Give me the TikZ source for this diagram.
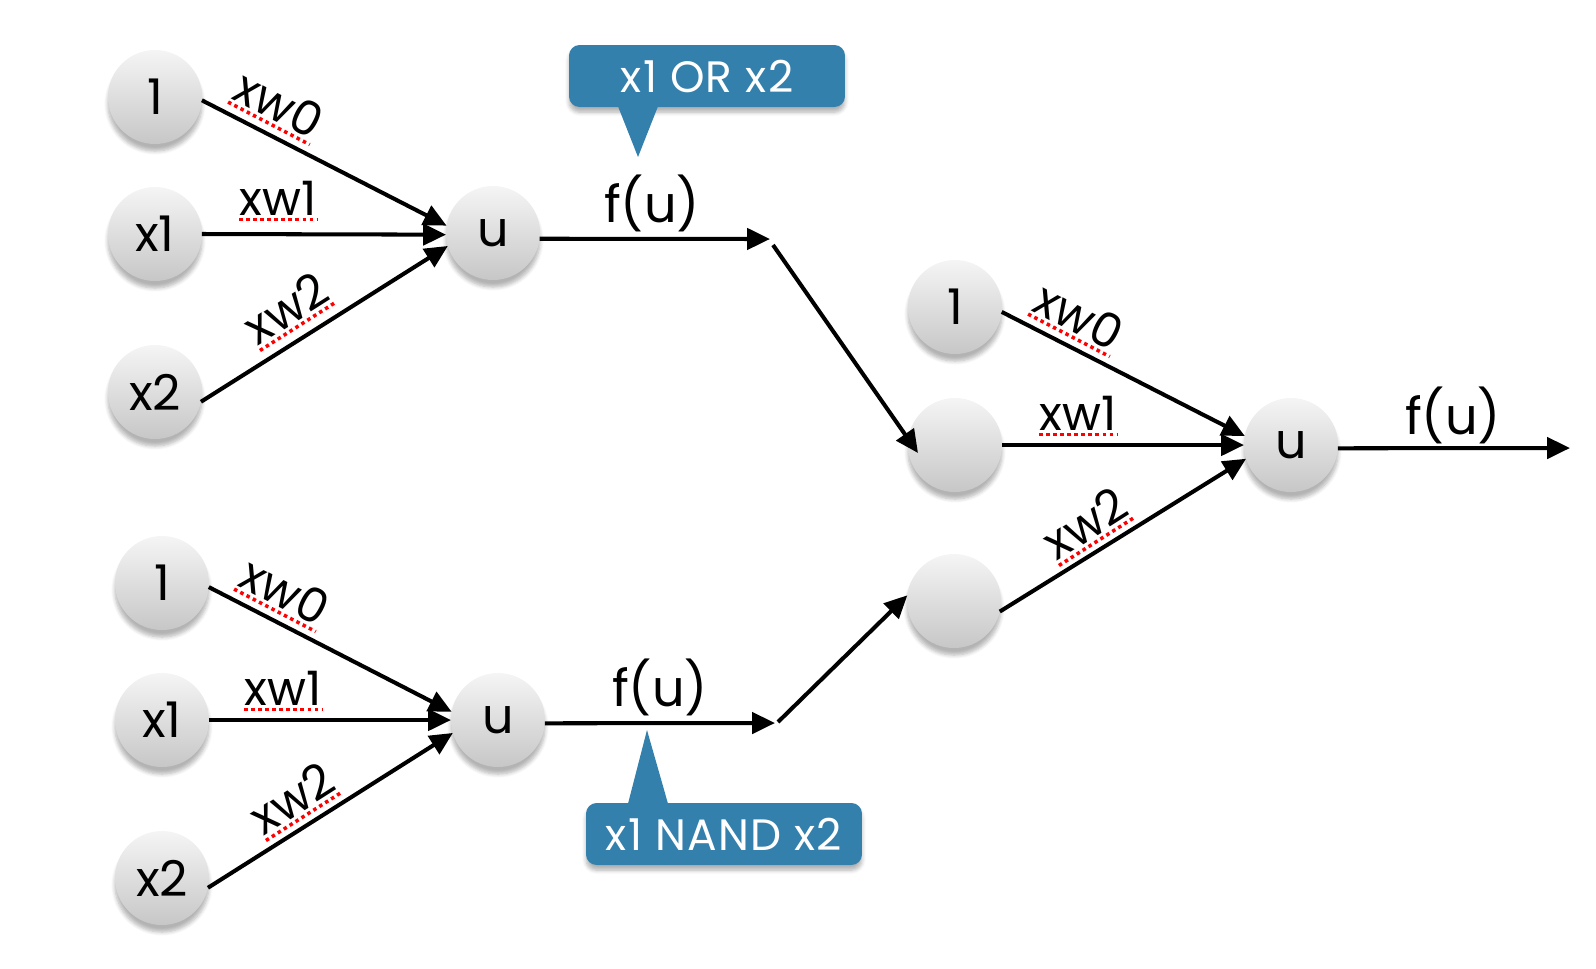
\documentclass[tikz,border=0pt]{standalone}
\usepackage{fontspec}
\setmainfont{Poppins}
\usetikzlibrary{arrows.meta,calc,shadows.blur}
\definecolor{callblue}{RGB}{52,128,172}
\newcommand\spelllabel[4]{%
  \node[wl, rotate=#3] (#1) at #2 {#4};
  \draw[spell] ($(#1.base west)!2.5pt!-90:(#1.base east)$) -- ($(#1.base east)!2.5pt!90:(#1.base west)$);
}
\begin{document}
\begin{tikzpicture}[x=0.02cm,y=-0.02cm,
  neuron/.style={circle, minimum size=1.88cm, inner sep=0pt, outer sep=0pt,
    top color=black!4, bottom color=black!22,
    blur shadow={shadow xshift=0pt, shadow yshift=-4pt, shadow blur steps=6, shadow opacity=30},
    font=\fontsize{28}{32}\selectfont},
  conn/.style={line width=2.3pt, -{Triangle[length=13pt,width=12pt]}},
  wl/.style={inner sep=0pt, font=\fontsize{27}{30}\selectfont},
  spell/.style={red, line width=2pt, dash pattern=on 2pt off 2pt},
  fu/.style={inner sep=0pt, font=\fontsize{29}{33}\selectfont},
  callout/.style={fill=callblue, text=white, rounded corners=6pt, minimum width=5.52cm,
    minimum height=1.24cm, inner sep=0pt, font=\fontsize{25}{29}\selectfont\addfontfeature{LetterSpace=3},
    blur shadow={shadow xshift=0pt, shadow yshift=-3pt, shadow blur steps=5, shadow opacity=30}},
  calltip/.style={fill=callblue},
]
\useasboundingbox (0,0) rectangle (1596,968);

% ---------- top-left group ----------
\node[neuron] (a1) at (155,97) {1};
\node[neuron] (ax1) at (155,234) {x1};
\node[neuron] (ax2) at (155,392) {x2};
\node[neuron] (au) at (493,233) {u};
\draw[conn] (a1.-4) -- (au.171);
\draw[conn] (ax1.east) -- (au.182);
\draw[conn] (ax2.-12) -- (au.196);
\spelllabel{la0}{(279,104)}{-27.5}{xw0}
\spelllabel{la1}{(278,198)}{0}{xw1}
\spelllabel{la2}{(286,308)}{32.5}{xw2}
\coordinate (c1) at (770,239);
\coordinate (c1b) at (773,245);
\draw[conn] (au.-7) -- (c1);
\node[fu] (fu1) at (652,203) {f(u)};

% ---------- bottom-left group ----------
\node[neuron] (b1) at (162,583) {1};
\node[neuron] (bx1) at (162,720) {x1};
\node[neuron] (bx2) at (162,878) {x2};
\node[neuron] (bu) at (498,720) {u};
\draw[conn] (b1.-5) -- (bu.170);
\draw[conn] (bx1.east) -- (bu.180);
\draw[conn] (bx2.-12) -- (bu.196);
\spelllabel{lb0}{(285,591)}{-27.5}{xw0}
\spelllabel{lb1}{(283,688)}{0}{xw1}
\spelllabel{lb2}{(292,798)}{32.5}{xw2}
\coordinate (c3) at (775,723);
\coordinate (c3b) at (778,722);
\draw[conn] (bu.-4) -- (c3);
\node[fu] (fu2) at (660,687) {f(u)};

% ---------- right group ----------
\node[neuron] (r1) at (955,307) {1};
\node[neuron] (rm) at (955,445) {};
\node[neuron] (rb) at (954,601) {};
\node[neuron] (ru) at (1291,445) {u};
\draw[conn] (r1.-6) -- (ru.169);
\draw[conn] (rm.east) -- (ru.180);
\draw[conn] (rb.-13) -- (ru.197);
\spelllabel{lr0}{(1079,316)}{-27.5}{xw0}
\spelllabel{lr1}{(1078,413)}{0}{xw1}
\spelllabel{lr2}{(1085,523)}{32.5}{xw2}
\coordinate (c5) at (1570,448);
\draw[conn] (ru.-4) -- (c5);
\node[fu] (fu3) at (1453,415) {f(u)};

% ---------- connections between layers ----------
\draw[conn] (c1b) -- ($(rm)+(-37,8)$);
\draw[conn] (c3b) -- (rb.173);

% ---------- callouts ----------
\node[callout] (co1) at (707,76) {x1 OR x2};
\coordinate (t1) at (638,157);
\fill[calltip] ($(co1.south)+(-89,-1)$) -- ($(co1.south)+(-49,-1)$) -- (t1) -- cycle;

\node[callout] (co2) at (724,834) {x1 NAND x2};
\coordinate (t2) at (647,730);
\fill[calltip] ($(co2.north)+(-96,1)$) -- ($(co2.north)+(-56,1)$) -- (t2) -- cycle;
\end{tikzpicture}
\end{document}
